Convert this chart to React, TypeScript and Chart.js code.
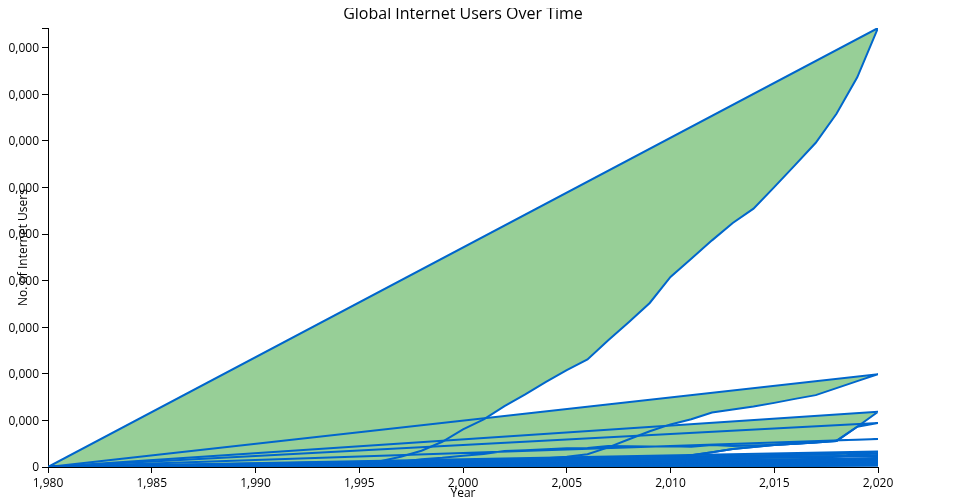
import { useEffect, useRef } from "react";
import { Chart, registerables } from "chart.js";

Chart.register(...registerables);

// ---------- DATA (values in millions of users) ----------
const TITLE = "Global Internet Users Over Time";
const X_TITLE = "Year";
const Y_TITLE = "No. of Internet Users";

const YEARS = [
  1980, 1981, 1982, 1983, 1984, 1985, 1986, 1987, 1988, 1989,
  1990, 1991, 1992, 1993, 1994, 1995, 1996, 1997, 1998, 1999,
  2000, 2001, 2002, 2003, 2004, 2005, 2006, 2007, 2008, 2009,
  2010, 2011, 2012, 2013, 2014, 2015, 2016, 2017, 2018, 2019, 2020,
];

const WORLD = [
  0, 0, 0, 0, 0, 0, 0, 0, 0, 0,
  3, 4, 7, 14, 25, 38, 62, 110, 175, 271,
  404, 511, 654, 780, 914, 1039, 1154, 1361, 1557, 1760,
  2039, 2236, 2432, 2618, 2772, 3003, 3240, 3479, 3790, 4182, 4711,
];

const CHINA = [
  0, 0, 0, 0, 0, 0, 0, 0, 0, 0,
  0, 0, 0, 0, 0, 0, 0.2, 0.6, 2, 9,
  22, 34, 59, 80, 94, 111, 137, 210, 298, 384,
  457, 513, 585, 618, 649, 688, 731, 771, 846, 921, 996,
];

const INDIA = [
  0, 0, 0, 0, 0, 0, 0, 0, 0, 0,
  0, 0, 0, 0, 0, 0.25, 0.5, 0.7, 1.4, 2.8,
  5.5, 7, 16, 18, 22, 27, 32, 46, 52, 62,
  92, 125, 158, 193, 215, 236, 250, 262, 280, 432, 592,
];

const INDIA_B = [
  0, 0, 0, 0, 0, 0, 0, 0, 0, 0,
  0, 0, 0, 0, 0, 0.25, 0.5, 0.7, 1.4, 2.8,
  5.5, 7, 16, 18, 22, 27, 32, 46, 52, 62,
  92, 125, 158, 193, 215, 236, 250, 262, 280, 432, 472,
];

const USA = [
  0, 0, 0, 0, 0, 0, 0, 0, 0, 0,
  2, 3, 5, 6, 13, 24, 45, 57, 84, 100,
  121, 140, 172, 180, 190, 200, 205, 226, 222, 220,
  223, 218, 235, 225, 232, 240, 250, 265, 288, 292, 300,
];

const SPARSE_YEARS = [1980, 1995, 2000, 2005, 2010, 2015, 2020];
const BRAZIL = [0, 0.2, 5, 40, 80, 120, 165];
const INDONESIA = [0, 0.1, 2, 8, 27, 55, 148];
const JAPAN = [0, 2, 38, 85, 100, 115, 116];
const RUSSIA = [0, 0.2, 3, 22, 62, 105, 124];
const NIGERIA = [0, 0, 0.1, 5, 18, 44, 90];
const MEXICO = [0, 0.1, 5, 18, 35, 72, 92];
const GERMANY = [0, 1.5, 25, 57, 67, 72, 74];
const EGYPT = [0, 0, 0.5, 10, 18, 35, 73];
const PHILIPPINES = [0, 0, 1.5, 4, 23, 37, 68];
const VIETNAM = [0, 0, 0.2, 10, 27, 42, 68];
const IRAN = [0, 0, 0.6, 6, 11, 35, 70];
const TURKEY = [0, 0, 2, 11, 28, 42, 65];
const UK = [0, 1, 16, 42, 53, 59, 63];
const FRANCE = [0, 0.9, 8, 26, 51, 52, 57];
const PAKISTAN = [0, 0, 0.2, 10, 13, 25, 55];
const THAILAND = [0, 0, 2, 10, 15, 27, 54];
const KOREA = [0, 0.4, 20, 35, 40, 46, 49];
const ITALY = [0, 0.3, 13, 20, 32, 35, 42];
const SPAIN = [0, 0.15, 5, 20, 30, 36, 43];
const BANGLADESH = [0, 0, 0.1, 0.3, 5, 23, 40];
const SOUTH_AFRICA = [0, 0.3, 2.3, 3.5, 12, 28, 41];
const ARGENTINA = [0, 0, 2.6, 7, 18, 29, 39];
const COLOMBIA = [0, 0, 0.9, 4.5, 17, 27, 35];
const CANADA = [0, 1.2, 15, 23, 27, 32, 35];
const POLAND = [0, 0.2, 2.8, 15, 24, 26, 32];
const SAUDI = [0, 0, 0.4, 3, 11, 21, 34];
const UKRAINE = [0, 0, 0.2, 1.7, 10, 21, 31];
const MALAYSIA = [0, 0, 5, 12, 16, 22, 29];
const MOROCCO = [0, 0, 0.1, 4, 16, 20, 30];
const ALGERIA = [0, 0, 0.05, 2, 5, 15, 27];
const PERU = [0, 0, 0.8, 4.7, 10, 12, 21];
const KENYA = [0, 0, 0.1, 1, 3, 9, 14];

const Y_TICKS = [0, 500, 1000, 1500, 2000, 2500, 3000, 3500, 4000, 4500];

// ---------- STYLE ----------
const FILL = "rgb(151, 207, 151)";
const STROKE = "#0066cc";
const FONT = '"Open Sans", "Noto Sans", sans-serif';
const M = 1e6;

function shape(label: string, xs: number[], vals: number[]) {
  const pts = xs.map((x, i) => ({ x, y: vals[i] * M }));
  pts.push({ x: xs[0], y: vals[0] * M });
  return {
    label,
    data: pts,
    borderColor: STROKE,
    backgroundColor: FILL,
    borderWidth: 2,
    fill: "shape",
    pointRadius: 0,
    tension: 0,
  };
}

const titlePlugin = {
  id: "chartTitleCustom",
  afterDraw(chart: any) {
    const { ctx, chartArea } = chart;
    ctx.save();
    ctx.font = `16px ${FONT}`;
    ctx.fillStyle = "#000";
    ctx.textAlign = "center";
    ctx.textBaseline = "alphabetic";
    ctx.fillText(TITLE, (chartArea.left + chartArea.right) / 2, 10.5);
    ctx.restore();
  },
};

export default function App() {
  const ref = useRef<HTMLCanvasElement | null>(null);

  useEffect(() => {
    if (!ref.current) return;
    const yMax = Math.max(...WORLD) * M;
    const datasets = [
      shape("Kenya", SPARSE_YEARS, KENYA),
      shape("Peru", SPARSE_YEARS, PERU),
      shape("Algeria", SPARSE_YEARS, ALGERIA),
      shape("Morocco", SPARSE_YEARS, MOROCCO),
      shape("Malaysia", SPARSE_YEARS, MALAYSIA),
      shape("Ukraine", SPARSE_YEARS, UKRAINE),
      shape("Saudi Arabia", SPARSE_YEARS, SAUDI),
      shape("Poland", SPARSE_YEARS, POLAND),
      shape("Canada", SPARSE_YEARS, CANADA),
      shape("Colombia", SPARSE_YEARS, COLOMBIA),
      shape("Argentina", SPARSE_YEARS, ARGENTINA),
      shape("South Africa", SPARSE_YEARS, SOUTH_AFRICA),
      shape("Bangladesh", SPARSE_YEARS, BANGLADESH),
      shape("Spain", SPARSE_YEARS, SPAIN),
      shape("Italy", SPARSE_YEARS, ITALY),
      shape("South Korea", SPARSE_YEARS, KOREA),
      shape("Thailand", SPARSE_YEARS, THAILAND),
      shape("Pakistan", SPARSE_YEARS, PAKISTAN),
      shape("France", SPARSE_YEARS, FRANCE),
      shape("United Kingdom", SPARSE_YEARS, UK),
      shape("Turkey", SPARSE_YEARS, TURKEY),
      shape("Iran", SPARSE_YEARS, IRAN),
      shape("Vietnam", SPARSE_YEARS, VIETNAM),
      shape("Philippines", SPARSE_YEARS, PHILIPPINES),
      shape("Egypt", SPARSE_YEARS, EGYPT),
      shape("Germany", SPARSE_YEARS, GERMANY),
      shape("Mexico", SPARSE_YEARS, MEXICO),
      shape("Nigeria", SPARSE_YEARS, NIGERIA),
      shape("Russia", SPARSE_YEARS, RUSSIA),
      shape("Japan", SPARSE_YEARS, JAPAN),
      shape("Indonesia", SPARSE_YEARS, INDONESIA),
      shape("Brazil", SPARSE_YEARS, BRAZIL),
      shape("United States", YEARS, USA),
      shape("India (B)", YEARS, INDIA_B),
      shape("India", YEARS, INDIA),
      shape("China", YEARS, CHINA),
      shape("World", YEARS, WORLD),
    ];

    const axisGrid = {
      display: true,
      drawOnChartArea: false,
      drawTicks: true,
      tickLength: 6,
      color: "#000",
      lineWidth: 1,
    };

    const chart = new Chart(ref.current, {
      type: "line",
      data: { datasets: datasets as any },
      options: {
        animation: false,
        responsive: false,
        maintainAspectRatio: false,
        events: [],
        layout: { padding: { top: 20, right: 82, left: 0, bottom: 0 } },
        plugins: {
          legend: { display: false },
          title: { display: false },
          tooltip: { enabled: false },
          filler: { drawTime: "beforeDatasetsDraw", propagate: false },
        } as any,
        scales: {
          x: {
            type: "linear",
            min: 1980,
            max: 2020,
            grid: axisGrid as any,
            border: { display: true, color: "#000", width: 1 },
            ticks: {
              stepSize: 5,
              padding: 3,
              color: "#000",
              font: { family: FONT, size: 12 },
              maxRotation: 0,
            },
            title: {
              display: true,
              text: X_TITLE,
              color: "#000",
              font: { family: FONT, size: 12 },
              padding: { top: 0, bottom: -1 },
            },
            afterFit: (s: any) => {
              s.height = 33;
            },
          },
          y: {
            type: "linear",
            min: 0,
            max: yMax,
            grid: axisGrid as any,
            border: { display: true, color: "#000", width: 1 },
            ticks: {
              padding: 3,
              labelOffset: 1,
              color: "#000",
              font: { family: FONT, size: 12 },
              callback: (v: any) =>
                Y_TICKS.includes(Number(v) / M) ? Number(v).toLocaleString("en-US") : "",
            },
            afterBuildTicks: (s: any) => {
              s.ticks = [...Y_TICKS.map((v) => ({ value: v * M })), { value: yMax }];
            },
            title: {
              display: true,
              text: Y_TITLE,
              color: "#000",
              font: { family: FONT, size: 12 },
              padding: { top: 8, bottom: 0 },
            },
            afterFit: (s: any) => {
              s.width = 40;
            },
          },
        },
      },
      plugins: [titlePlugin],
    });
    return () => chart.destroy();
  }, []);

  return (
    <canvas
      ref={ref}
      width={952}
      height={492}
      style={{ display: "block", width: 952, height: 492 }}
    />
  );
}
